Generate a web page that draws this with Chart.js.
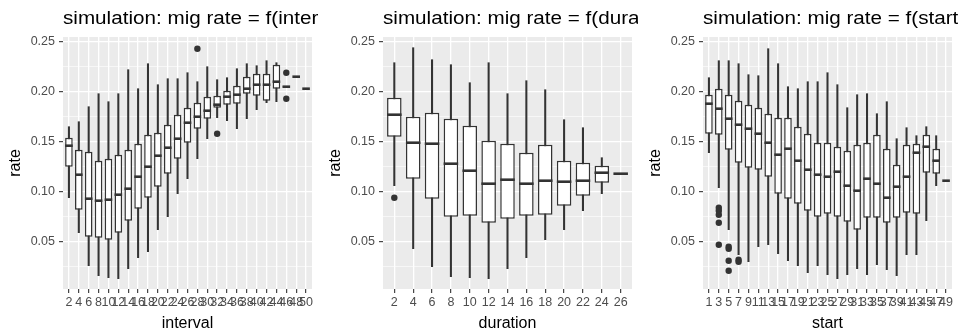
<!DOCTYPE html>
<html>
<head>
<meta charset="utf-8">
<script src="https://cdn.jsdelivr.net/npm/chart.js@4/dist/chart.umd.min.js"></script>
<style>
  body { margin: 0; background: #ffffff; }
  canvas { position: absolute; top: 0; }
</style>
</head>
<body>
<canvas id="chartInterval" width="318" height="332" style="left:0px"></canvas>
<canvas id="chartDuration" width="318" height="332" style="left:320px"></canvas>
<canvas id="chartStart" width="318" height="332" style="left:640px"></canvas>
<script>
// y axis ticks shared by all panels (minor + major)
const yTicks = [0.025, 0.05, 0.075, 0.1, 0.125, 0.15, 0.175, 0.2, 0.225, 0.25];

// panel 1: rate by interval
const intervalCats = [2, 4, 6, 8, 10, 12, 14, 16, 18, 20, 22, 24, 26, 28, 30, 32, 34, 36, 38, 40, 42, 44, 46, 48, 50];
const intervalLow  = [0.094, 0.059, 0.026, 0.016, 0.014, 0.013, 0.023, 0.034, 0.040, 0.062, 0.075, 0.098, 0.113, 0.133, 0.153, 0.174, 0.171, 0.163, 0.173, 0.182, 0.189, 0.190, 0.205, 0.215, 0.203];
const intervalQ1   = [0.125, 0.082, 0.055, 0.054, 0.052, 0.059, 0.071, 0.083, 0.094, 0.105, 0.118, 0.133, 0.149, 0.163, 0.173, 0.184, 0.187, 0.188, 0.198, 0.196, 0.191, 0.203, 0.2045, 0.215, 0.203];
const intervalMed  = [0.146, 0.117, 0.093, 0.091, 0.092, 0.097, 0.103, 0.115, 0.125, 0.136, 0.144, 0.153, 0.169, 0.175, 0.181, 0.187, 0.195, 0.197, 0.203, 0.207, 0.207, 0.210, 0.205, 0.215, 0.203];
const intervalQ3   = [0.154, 0.142, 0.140, 0.131, 0.133, 0.137, 0.142, 0.148, 0.157, 0.159, 0.167, 0.177, 0.184, 0.189, 0.195, 0.196, 0.201, 0.206, 0.215, 0.218, 0.218, 0.227, 0.2055, 0.215, 0.203];
const intervalHigh = [0.165, 0.170, 0.185, 0.198, 0.190, 0.198, 0.222, 0.203, 0.228, 0.207, 0.213, 0.213, 0.219, 0.210, 0.225, 0.212, 0.214, 0.223, 0.228, 0.226, 0.231, 0.229, 0.205, 0.215, 0.203];
const intervalOut  = [[28, 0.243], [32, 0.158], [46, 0.219], [46, 0.193]];

// panel 2: rate by duration
const durationCats = [2, 4, 6, 8, 10, 12, 14, 16, 18, 20, 22, 24, 26];
const durationLow  = [0.106, 0.043, 0.025, 0.015, 0.014, 0.013, 0.023, 0.034, 0.052, 0.062, 0.081, 0.098, 0.118];
const durationQ1   = [0.155, 0.113, 0.093, 0.075, 0.076, 0.069, 0.073, 0.076, 0.077, 0.086, 0.096, 0.109, 0.118];
const durationMed  = [0.177, 0.149, 0.148, 0.128, 0.121, 0.108, 0.112, 0.108, 0.111, 0.110, 0.111, 0.119, 0.118];
const durationQ3   = [0.194, 0.175, 0.179, 0.173, 0.166, 0.151, 0.148, 0.139, 0.147, 0.131, 0.129, 0.126, 0.118];
const durationHigh = [0.229, 0.244, 0.232, 0.227, 0.209, 0.229, 0.198, 0.211, 0.202, 0.172, 0.164, 0.134, 0.118];
const durationOut  = [[2, 0.094]];

// panel 3: rate by start
const startCats = [1, 3, 5, 7, 9, 11, 13, 15, 17, 19, 21, 23, 25, 27, 29, 31, 33, 35, 37, 39, 41, 43, 45, 47, 49];
const startLow  = [0.139, 0.104, 0.062, 0.037, 0.030, 0.045, 0.047, 0.038, 0.031, 0.026, 0.019, 0.026, 0.017, 0.013, 0.017, 0.023, 0.017, 0.027, 0.022, 0.016, 0.037, 0.037, 0.071, 0.106, 0.111];
const startQ1   = [0.158, 0.157, 0.142, 0.129, 0.124, 0.122, 0.115, 0.098, 0.093, 0.088, 0.081, 0.075, 0.078, 0.075, 0.070, 0.062, 0.074, 0.074, 0.069, 0.074, 0.079, 0.078, 0.119, 0.118, 0.111];
const startMed  = [0.188, 0.183, 0.173, 0.167, 0.163, 0.158, 0.149, 0.137, 0.143, 0.131, 0.122, 0.117, 0.115, 0.120, 0.106, 0.101, 0.113, 0.108, 0.094, 0.105, 0.115, 0.139, 0.145, 0.131, 0.111];
const startQ3   = [0.197, 0.203, 0.197, 0.191, 0.187, 0.184, 0.178, 0.174, 0.174, 0.165, 0.158, 0.149, 0.149, 0.145, 0.141, 0.147, 0.149, 0.157, 0.143, 0.127, 0.147, 0.148, 0.157, 0.143, 0.111];
const startHigh = [0.214, 0.231, 0.231, 0.228, 0.217, 0.216, 0.243, 0.228, 0.205, 0.203, 0.210, 0.210, 0.219, 0.207, 0.184, 0.197, 0.198, 0.178, 0.190, 0.153, 0.164, 0.156, 0.165, 0.156, 0.111];
const startOut  = [[3, 0.084], [3, 0.081], [3, 0.077], [3, 0.069], [3, 0.047], [5, 0.045], [5, 0.043], [5, 0.031], [5, 0.021], [7, 0.032], [7, 0.030]];

Chart.defaults.font.family = "'Liberation Sans', Arial, Helvetica, sans-serif";

const BOX_WIDTH = 0.77;
const PLOT_RIGHT = 312;

function isMajor(v) {
  return Math.abs(v * 20 - Math.round(v * 20)) < 1e-6;
}

function halfBox(chart) {
  var x = chart.scales.x;
  return (x.getPixelForValue(1) - x.getPixelForValue(0)) * BOX_WIDTH / 2;
}

// grey panel background like ggplot theme_grey
const panelBg = {
  id: "panelBg",
  beforeDraw: function (chart) {
    var a = chart.chartArea;
    chart.ctx.save();
    chart.ctx.fillStyle = "#ebebeb";
    chart.ctx.fillRect(a.left, a.top, a.right - a.left, a.bottom - a.top);
    chart.ctx.restore();
  },
};

// left-aligned panel title, the canvas edge cuts it off like the original
const panelTitle = {
  id: "panelTitle",
  afterDraw: function (chart, args, opts) {
    var ctx = chart.ctx;
    ctx.save();
    ctx.fillStyle = "#000000";
    ctx.font = "17.5px 'Liberation Sans', Arial, sans-serif";
    ctx.textBaseline = "alphabetic";
    ctx.translate(chart.chartArea.left, 24);
    ctx.scale(1.18, 1);
    ctx.fillText(opts.text, 0, 0);
    ctx.restore();
  },
};

function drawPanel(id, title, xTitle, cats, low, q1, med, q3, high, outliers) {
  var n = cats.length;
  var canvas = document.getElementById(id);
  new Chart(canvas, {
    type: "bar",
    plugins: [panelBg, panelTitle],
    data: {
      datasets: [
        {
          type: "scatter",
          order: 0,
          data: med.map(function (v, i) { return { x: i, y: v }; }),
          pointStyle: "line",
          pointRadius: function (ctx) { return halfBox(ctx.chart); },
          pointHoverRadius: function (ctx) { return halfBox(ctx.chart); },
          pointBorderWidth: 2.6,
          pointBorderColor: "#333333",
          showLine: false,
        },
        {
          type: "scatter",
          order: 1,
          data: outliers.map(function (o) { return { x: cats.indexOf(o[0]), y: o[1] }; }),
          pointRadius: 3.2,
          pointBackgroundColor: "#333333",
          pointBorderWidth: 0,
          showLine: false,
        },
        {
          order: 2,
          data: q1.map(function (v, i) { return { x: i, y: [v, q3[i]] }; }),
          backgroundColor: "#ffffff",
          borderColor: "#333333",
          borderWidth: 1.5,
          borderSkipped: false,
          barPercentage: BOX_WIDTH,
          categoryPercentage: 1,
          grouped: false,
        },
        {
          order: 3,
          data: low.map(function (v, i) { return { x: i, y: [v, high[i]] }; }),
          backgroundColor: "#333333",
          borderWidth: 0,
          barThickness: 1.4,
          grouped: false,
        },
      ],
    },
    options: {
      responsive: false,
      animation: false,
      events: [],
      layout: {
        padding: { top: 37, left: 0, bottom: 0, right: canvas.width - PLOT_RIGHT },
      },
      plugins: {
        legend: { display: false },
        tooltip: { enabled: false },
        title: { display: false },
        panelTitle: { text: title },
      },
      scales: {
        x: {
          type: "linear",
          min: -0.6,
          max: n - 0.4,
          offset: false,
          afterBuildTicks: function (scale) {
            scale.ticks = cats.map(function (c, i) { return { value: i }; });
          },
          afterFit: function (scale) {
            scale.height = 43;
          },
          grid: {
            offset: false,
            color: "#ffffff",
            lineWidth: 1.3,
            tickColor: "#333333",
            tickLength: 4,
            tickWidth: 1.1,
          },
          border: { display: false },
          ticks: {
            autoSkip: false,
            maxRotation: 0,
            minRotation: 0,
            color: "#4d4d4d",
            font: { size: 12.5 },
            padding: 2,
            callback: function (v) { return String(cats[v]); },
          },
          title: {
            display: true,
            text: xTitle,
            color: "#000000",
            font: { size: 16, lineHeight: 1.05 },
            padding: { top: 0, bottom: 0 },
          },
        },
        y: {
          min: 0.0027,
          max: 0.2547,
          afterBuildTicks: function (scale) {
            scale.ticks = yTicks.map(function (v) { return { value: v }; });
          },
          afterFit: function (scale) {
            scale.width = 63;
          },
          grid: {
            color: "#ffffff",
            lineWidth: function (ctx) { return isMajor(ctx.tick.value) ? 1.3 : 0.6; },
            tickColor: function (ctx) { return isMajor(ctx.tick.value) ? "#333333" : "rgba(0,0,0,0)"; },
            tickLength: 4,
            tickWidth: 1.1,
          },
          border: { display: false },
          ticks: {
            autoSkip: false,
            color: "#4d4d4d",
            font: { size: 12.5 },
            padding: 4,
            callback: function (v) { return isMajor(v) ? v.toFixed(2) : ""; },
          },
          title: {
            display: true,
            text: "rate",
            color: "#000000",
            font: { size: 16 },
            padding: { top: 6, bottom: 0 },
          },
        },
      },
    },
  });
}

drawPanel("chartInterval", "simulation: mig rate = f(interval)", "interval",
  intervalCats, intervalLow, intervalQ1, intervalMed, intervalQ3, intervalHigh, intervalOut);
drawPanel("chartDuration", "simulation: mig rate = f(duration)", "duration",
  durationCats, durationLow, durationQ1, durationMed, durationQ3, durationHigh, durationOut);
drawPanel("chartStart", "simulation: mig rate = f(start)", "start",
  startCats, startLow, startQ1, startMed, startQ3, startHigh, startOut);
</script>
</body>
</html>
